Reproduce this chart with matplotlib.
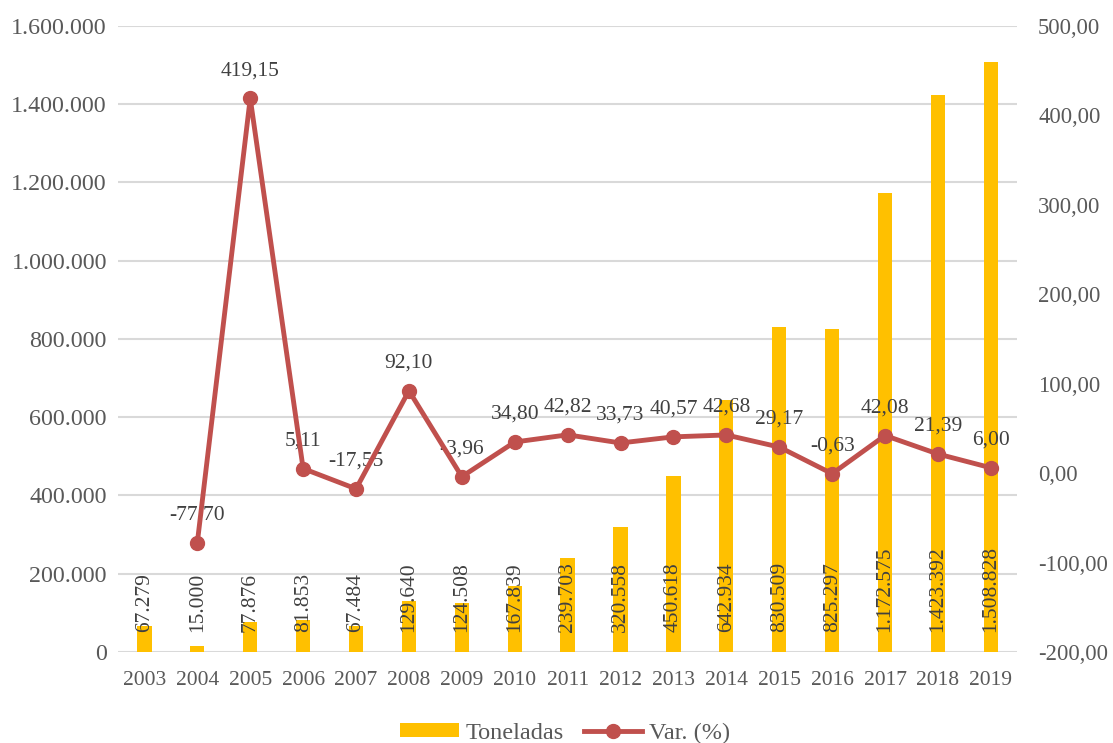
import numpy as np
import matplotlib.pyplot as plt
from matplotlib.ticker import FuncFormatter

years = ["2003", "2004", "2005", "2006", "2007", "2008", "2009", "2010", "2011",
         "2012", "2013", "2014", "2015", "2016", "2017", "2018", "2019"]
toneladas = [67279, 15000, 77876, 81853, 67484, 129640, 124508, 167839, 239703,
             320558, 450618, 642934, 830509, 825297, 1172575, 1423392, 1508828]
variacion = [np.nan, -77.70, 419.15, 5.11, -17.55, 92.10, -3.96, 34.80, 42.82,
             33.73, 40.57, 42.68, 29.17, -0.63, 42.08, 21.39, 6.00]

plt.rcParams['font.family'] = ['Liberation Serif', 'DejaVu Serif']
bar_color = '#FFC000'
line_color = '#C0504D'
tick_color = '#595959'
text_color = '#404040'


def miles(v, pos=None):
    return f"{int(round(v)):,}".replace(",", ".")


def pct(v, pos=None):
    return f"{v:.2f}".replace(".", ",")


fig = plt.figure(figsize=(11.13, 7.43), dpi=100)
ax = fig.add_axes([0.106, 0.1225, 0.808, 0.8425])
x = np.arange(len(years))

ax.bar(x, toneladas, width=0.27, color=bar_color, label='Toneladas', zorder=2)
ax.set_ylim(0, 1600000)
ax.set_yticks(np.arange(0, 1600001, 200000))
ax.yaxis.set_major_formatter(FuncFormatter(miles))
ax.set_xlim(-0.5, len(years) - 0.5)
ax.set_xticks(x)
ax.set_xticklabels(years)
ax.grid(axis='y', color='#D9D9D9', linewidth=1.5, zorder=0)
ax.set_axisbelow(True)
for s in ax.spines.values():
    s.set_visible(False)
ax.tick_params(axis='y', length=0, pad=8, labelsize=17.3, labelcolor=tick_color)
ax.tick_params(axis='x', length=0, pad=14, labelsize=15.5, labelcolor=tick_color)

for xi, v in zip(x, toneladas):
    ax.annotate(miles(v), (xi, 0), xytext=(0, 20), textcoords='offset pixels',
                rotation=90, ha='center', va='bottom', fontsize=15.5,
                color=text_color, zorder=3)

ax2 = ax.twinx()
ax2.plot(x, variacion, color=line_color, linewidth=3.5, marker='o',
         markersize=10, label='Var. (%)', zorder=4)
ax2.set_ylim(-200, 500)
ax2.set_yticks(np.arange(-200, 501, 100))
ax2.yaxis.set_major_formatter(FuncFormatter(pct))
for s in ax2.spines.values():
    s.set_visible(False)
ax2.tick_params(axis='y', length=0, pad=15, labelsize=16.3, labelcolor=tick_color)

for xi, v in zip(x, variacion):
    if np.isnan(v):
        continue
    ax2.annotate(pct(v), (xi, v), xytext=(0, 18), textcoords='offset pixels',
                 ha='center', va='bottom', fontsize=15.5, color=text_color)

h1, l1 = ax.get_legend_handles_labels()
h2, l2 = ax2.get_legend_handles_labels()
fig.legend(h1 + h2, l1 + l2, loc='center', bbox_to_anchor=(0.508, 0.013),
           ncol=2, frameon=False, fontsize=17.5, handlelength=2.4,
           handleheight=0.5, columnspacing=0.8, handletextpad=0.3,
           labelcolor=tick_color, borderpad=0)

fig.savefig('out.png', dpi=100)
